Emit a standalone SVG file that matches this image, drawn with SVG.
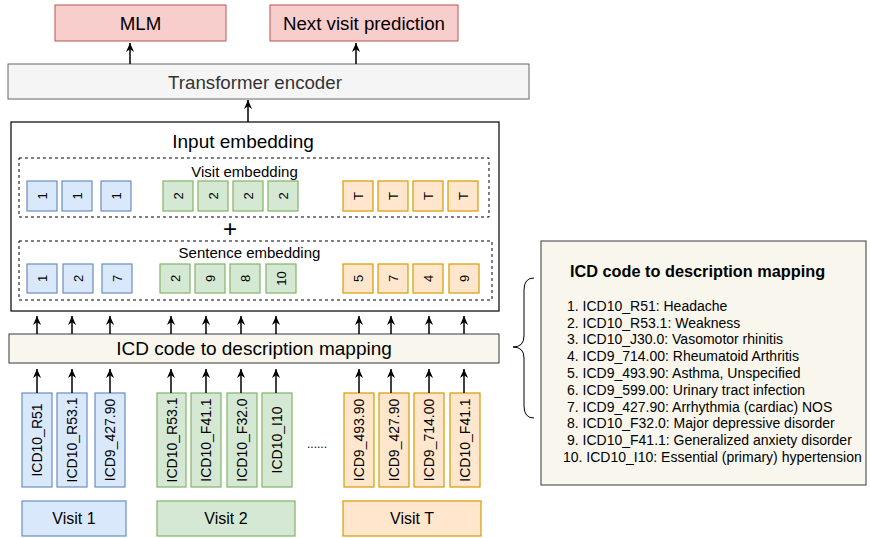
<svg xmlns="http://www.w3.org/2000/svg" width="870" height="538" viewBox="0 0 870 538">
<defs>
<style>
text{font-family:"Liberation Sans",Arial,sans-serif;fill:#000}
.red{fill:#f8cecc;stroke:#b85450;stroke-width:1}
.gray{fill:#f5f5f5;stroke:#666;stroke-width:1}
.beige{fill:#f9f7ed;stroke:#36393d;stroke-width:1}
.blue{fill:#dae8fc;stroke:#6c8ebf;stroke-width:1.2}
.green{fill:#d5e8d4;stroke:#82b366;stroke-width:1.2}
.orange{fill:#ffe6cc;stroke:#d79b00;stroke-width:1.2}
.dash{fill:none;stroke:#000;stroke-width:1;stroke-dasharray:3 3}
.arr{stroke:#000;stroke-width:1.5;fill:none;marker-end:url(#ah)}
.t14{font-size:14px}
.t15{font-size:15px}
.rot{font-size:13px;text-anchor:middle;dominant-baseline:central}
.rotl{font-size:14px;text-anchor:middle;dominant-baseline:central}
.c{text-anchor:middle}
</style>
<marker id="ah" viewBox="0 0 10 10" refX="10" refY="5" markerWidth="9" markerHeight="9" markerUnits="userSpaceOnUse" orient="auto">
<path d="M0,0.5 L10,5 L0,9.5 L3,5 z" fill="#000"/>
</marker>
</defs>

<g id="mlm"><rect class="red" x="55" y="5" width="171" height="36"/><text class="c" x="140.5" y="30" font-size="18.7">MLM</text></g>
<g id="nvp"><rect class="red" x="270" y="5" width="188" height="36"/><text class="c" x="364" y="30" font-size="18.7">Next visit prediction</text></g>
<g id="transformer"><rect class="gray" x="8" y="64" width="521" height="35"/><text class="c" x="255" y="89" font-size="18.7" style="fill:#333">Transformer encoder</text></g>

<g id="input-embedding">
<rect x="11" y="122" width="488" height="189" fill="#fff" stroke="#000" stroke-width="1.2"/>
<text class="c" x="243" y="148" font-size="19">Input embedding</text>
<rect class="dash" x="19" y="158" width="470" height="59"/>
<text class="c t15" x="244.5" y="176.5">Visit embedding</text>
<text class="c" x="230" y="236.5" font-size="24">+</text>
<rect class="dash" x="19" y="241" width="473" height="59"/>
<text class="c t15" x="249.5" y="257.5">Sentence embedding</text>
</g>

<g id="visit-emb">
<rect class="blue" x="27" y="181" width="30" height="30"/><text class="rot" transform="translate(42,196) rotate(-90)">1</text>
<rect class="blue" x="62" y="181" width="30" height="30"/><text class="rot" transform="translate(77,196) rotate(-90)">1</text>
<rect class="blue" x="101" y="181" width="30" height="30"/><text class="rot" transform="translate(116,196) rotate(-90)">1</text>
<rect class="green" x="163" y="181" width="30" height="30"/><text class="rot" transform="translate(178,196) rotate(-90)">2</text>
<rect class="green" x="198" y="181" width="30" height="30"/><text class="rot" transform="translate(213,196) rotate(-90)">2</text>
<rect class="green" x="233" y="181" width="30" height="30"/><text class="rot" transform="translate(248,196) rotate(-90)">2</text>
<rect class="green" x="268" y="181" width="30" height="30"/><text class="rot" transform="translate(283,196) rotate(-90)">2</text>
<rect class="orange" x="343" y="181" width="30" height="30"/><text class="rot" transform="translate(358,196) rotate(-90)">T</text>
<rect class="orange" x="378" y="181" width="30" height="30"/><text class="rot" transform="translate(393,196) rotate(-90)">T</text>
<rect class="orange" x="413" y="181" width="30" height="30"/><text class="rot" transform="translate(428,196) rotate(-90)">T</text>
<rect class="orange" x="448" y="181" width="30" height="30"/><text class="rot" transform="translate(463,196) rotate(-90)">T</text>
</g>

<g id="sentence-emb">
<rect class="blue" x="27" y="264" width="30" height="29"/><text class="rot" transform="translate(42,278.5) rotate(-90)">1</text>
<rect class="blue" x="63" y="264" width="30" height="29"/><text class="rot" transform="translate(78,278.5) rotate(-90)">2</text>
<rect class="blue" x="102" y="264" width="30" height="29"/><text class="rot" transform="translate(117,278.5) rotate(-90)">7</text>
<rect class="green" x="160" y="264" width="30" height="29"/><text class="rot" transform="translate(175,278.5) rotate(-90)">2</text>
<rect class="green" x="195" y="264" width="30" height="29"/><text class="rot" transform="translate(210,278.5) rotate(-90)">9</text>
<rect class="green" x="230" y="264" width="30" height="29"/><text class="rot" transform="translate(245,278.5) rotate(-90)">8</text>
<rect class="green" x="266" y="264" width="30" height="29"/><text class="rot" transform="translate(281,278.5) rotate(-90)">10</text>
<rect class="orange" x="343" y="264" width="30" height="29"/><text class="rot" transform="translate(358,278.5) rotate(-90)">5</text>
<rect class="orange" x="378" y="264" width="30" height="29"/><text class="rot" transform="translate(393,278.5) rotate(-90)">7</text>
<rect class="orange" x="413" y="264" width="30" height="29"/><text class="rot" transform="translate(428,278.5) rotate(-90)">4</text>
<rect class="orange" x="449" y="264" width="30" height="29"/><text class="rot" transform="translate(464,278.5) rotate(-90)">9</text>
</g>

<g id="icd-mapping"><rect class="beige" x="9" y="334" width="490" height="29"/><text class="c" x="254" y="355" font-size="19">ICD code to description mapping</text></g>

<g id="codes">
<rect class="blue" x="22" y="393" width="30" height="94"/><text class="rotl" transform="translate(37,440) rotate(-90)">ICD10_R51</text>
<rect class="blue" x="57" y="393" width="30" height="94"/><text class="rotl" transform="translate(72,440) rotate(-90)">ICD10_R53.1</text>
<rect class="blue" x="95" y="393" width="30" height="94"/><text class="rotl" transform="translate(110,440) rotate(-90)">ICD9_427.90</text>
<rect class="green" x="157" y="393" width="29" height="94"/><text class="rotl" transform="translate(171.5,440) rotate(-90)">ICD10_R53.1</text>
<rect class="green" x="191" y="393" width="30" height="94"/><text class="rotl" transform="translate(206,440) rotate(-90)">ICD10_F41.1</text>
<rect class="green" x="227" y="393" width="30" height="94"/><text class="rotl" transform="translate(242,440) rotate(-90)">ICD10_F32.0</text>
<rect class="green" x="262" y="393" width="30" height="94"/><text class="rotl" transform="translate(277,440) rotate(-90)">ICD10_I10</text>
<rect class="orange" x="344" y="393" width="30" height="94"/><text class="rotl" transform="translate(359,440) rotate(-90)">ICD9_493.90</text>
<rect class="orange" x="379" y="393" width="30" height="94"/><text class="rotl" transform="translate(394,440) rotate(-90)">ICD9_427.90</text>
<rect class="orange" x="414" y="393" width="30" height="94"/><text class="rotl" transform="translate(429,440) rotate(-90)">ICD9_714.00</text>
<rect class="orange" x="450" y="393" width="30" height="94"/><text class="rotl" transform="translate(465,440) rotate(-90)">ICD10_F41.1</text>
<text x="307" y="448" font-size="12">......</text>
</g>

<g id="visit1"><rect class="blue" x="22" y="501" width="104" height="35"/><text class="c" x="74" y="524" font-size="16">Visit 1</text></g>
<g id="visit2"><rect class="green" x="157" y="501" width="138" height="35"/><text class="c" x="226" y="524" font-size="16">Visit 2</text></g>
<g id="visitT"><rect class="orange" x="343" y="501" width="138" height="35"/><text class="c" x="412" y="524" font-size="16">Visit T</text></g>

<g id="mapping-panel">
<rect class="beige" x="541" y="241" width="325" height="244"/>
<text x="570" y="277" font-size="16.3" font-weight="bold">ICD code to description mapping</text>
<g class="t14">
<text x="567" y="311">1. ICD10_R51: Headache</text>
<text x="567" y="328">2. ICD10_R53.1: Weakness</text>
<text x="567" y="344">3. ICD10_J30.0: Vasomotor rhinitis</text>
<text x="567" y="361">4. ICD9_714.00: Rheumatoid Arthritis</text>
<text x="567" y="378">5. ICD9_493.90: Asthma, Unspecified</text>
<text x="567" y="395">6. ICD9_599.00: Urinary tract infection</text>
<text x="567" y="412">7. ICD9_427.90: Arrhythmia (cardiac) NOS</text>
<text x="567" y="428">8. ICD10_F32.0: Major depressive disorder</text>
<text x="567" y="445">9. ICD10_F41.1: Generalized anxiety disorder</text>
<text x="563" y="462">10. ICD10_I10: Essential (primary) hypertension</text>
</g>
</g>

<g id="connectors">
<line class="arr" x1="130" y1="64" x2="130" y2="43"/>
<line class="arr" x1="356" y1="64" x2="356" y2="43"/>
<line class="arr" x1="248" y1="122" x2="248" y2="100"/>
<g>
<line class="arr" x1="37" y1="334" x2="37" y2="316"/>
<line class="arr" x1="72" y1="334" x2="72" y2="316"/>
<line class="arr" x1="110" y1="334" x2="110" y2="316"/>
<line class="arr" x1="171" y1="334" x2="171" y2="316"/>
<line class="arr" x1="206" y1="334" x2="206" y2="316"/>
<line class="arr" x1="241" y1="334" x2="241" y2="316"/>
<line class="arr" x1="276" y1="334" x2="276" y2="316"/>
<line class="arr" x1="359" y1="334" x2="359" y2="316"/>
<line class="arr" x1="391" y1="334" x2="391" y2="316"/>
<line class="arr" x1="429" y1="334" x2="429" y2="316"/>
<line class="arr" x1="464" y1="334" x2="464" y2="316"/>
</g>
<g>
<line class="arr" x1="37" y1="393" x2="37" y2="369"/>
<line class="arr" x1="72" y1="393" x2="72" y2="369"/>
<line class="arr" x1="110" y1="393" x2="110" y2="369"/>
<line class="arr" x1="171" y1="393" x2="171" y2="369"/>
<line class="arr" x1="206" y1="393" x2="206" y2="369"/>
<line class="arr" x1="241" y1="393" x2="241" y2="369"/>
<line class="arr" x1="276" y1="393" x2="276" y2="369"/>
<line class="arr" x1="359" y1="393" x2="359" y2="369"/>
<line class="arr" x1="391" y1="393" x2="391" y2="369"/>
<line class="arr" x1="429" y1="393" x2="429" y2="369"/>
<line class="arr" x1="464" y1="393" x2="464" y2="369"/>
</g>
<path d="M534,278 Q524,278 524,290 L524,336 Q524,347 513,347 Q524,347 524,358 L524,406 Q524,418 534,418" fill="none" stroke="#000" stroke-width="1"/>
</g>
</svg>
